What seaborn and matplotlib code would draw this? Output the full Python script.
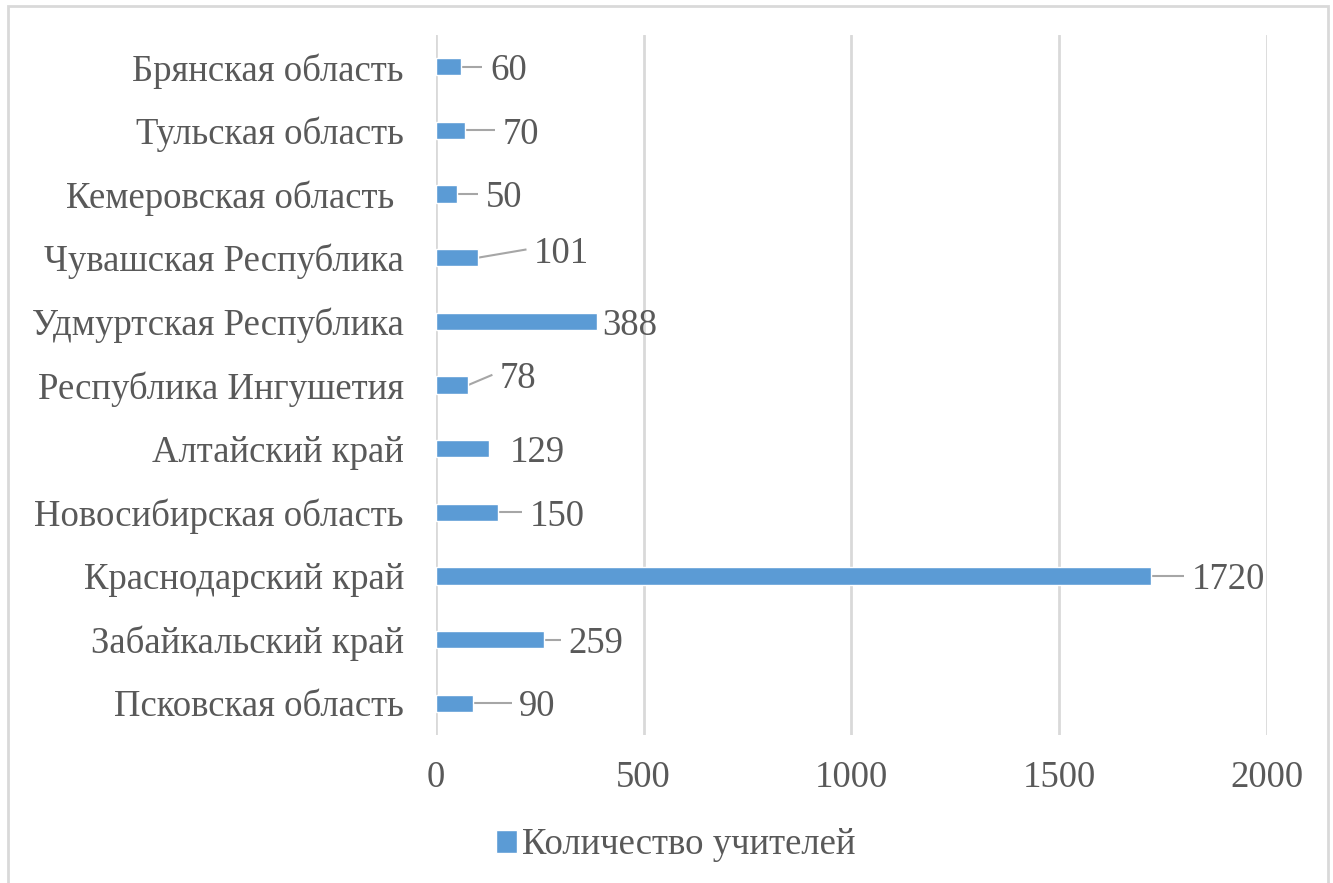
import matplotlib
matplotlib.use("Agg")
import matplotlib.pyplot as plt
import seaborn as sns
import pandas as pd
from matplotlib.patches import Rectangle

regions = ["Брянская область", "Тульская область", "Кемеровская область ",
           "Чувашская Республика", "Удмуртская Республика", "Республика Ингушетия",
           "Алтайский край", "Новосибирская область", "Краснодарский край",
           "Забайкальский край", "Псковская область"]
teachers = [60, 70, 50, 101, 388, 78, 129, 150, 1720, 259, 90]
series_name = "Количество учителей"
x_ticks = [0, 500, 1000, 1500, 2000]

# label layout (left edge of label in data units, vertical offset in category units, leader line?)
label_x = [130, 161, 120, 236, 400, 154, 178, 226, 1819, 320, 200]
label_dy = [0.0, 0.0, 0.0, -0.13, 0.0, -0.16, 0.0, 0.0, 0.0, 0.0, 0.0]
leader = [True, True, True, True, False, True, False, True, True, True, True]

BAR = "#5B9BD5"
TXT = "#595959"
GRID = "#D9D9D9"
LEAD = "#A6A6A6"
FS = 26.5

sns.set_theme(style="white")
plt.rcParams["font.family"] = ["Liberation Serif", "DejaVu Serif"]

fig = plt.figure(figsize=(13.33, 8.83), dpi=100)
ax = fig.add_axes([0.327, 0.1676, 0.6235, 0.7928])

df = pd.DataFrame({"region": regions, "teachers": teachers})
sns.barplot(data=df, x="teachers", y="region", orient="h", color=BAR,
            width=0.27, ax=ax, saturation=1, label=series_name, zorder=3)

ax.set_xlim(0, 2000)
ax.set_ylim(len(regions) - 0.5, -0.5)
ax.set_xticks(x_ticks)
ax.set_xticklabels([str(t) for t in x_ticks])
ax.set_xlabel("")
ax.set_ylabel("")
for s in ax.spines.values():
    s.set_visible(False)
ax.grid(False)
for t in x_ticks:
    ax.axvline(t, color=GRID, lw=2, zorder=1)
ax.tick_params(axis="x", length=0, pad=18, labelsize=FS, labelcolor=TXT)
ax.tick_params(axis="y", length=0, pad=23, labelsize=FS, labelcolor=TXT)

for i, v in enumerate(teachers):
    ty = i + label_dy[i]
    ax.text(label_x[i], ty, str(v), ha="left", va="center_baseline",
            fontsize=FS, color=TXT, zorder=4)
    if leader[i]:
        ax.plot([v, label_x[i] - 18], [i, ty], color=LEAD, lw=1.5, zorder=2,
                solid_capstyle="butt")

fig.legend(handles=ax.get_legend_handles_labels()[0][:1], labels=[series_name],
           loc="center", bbox_to_anchor=(676 / 1333, 1 - 845 / 883), frameon=False,
           fontsize=FS, labelcolor=TXT, handlelength=0.57, handleheight=0.57,
           handletextpad=0.15)
if ax.get_legend() is not None:
    ax.get_legend().remove()

fig.patches.append(Rectangle((8 / 1333, -0.01), 1320 / 1333, 1 - 6 / 883 + 0.01,
                             transform=fig.transFigure, fill=False,
                             edgecolor=GRID, lw=2))

fig.savefig("out.png", dpi=100)
